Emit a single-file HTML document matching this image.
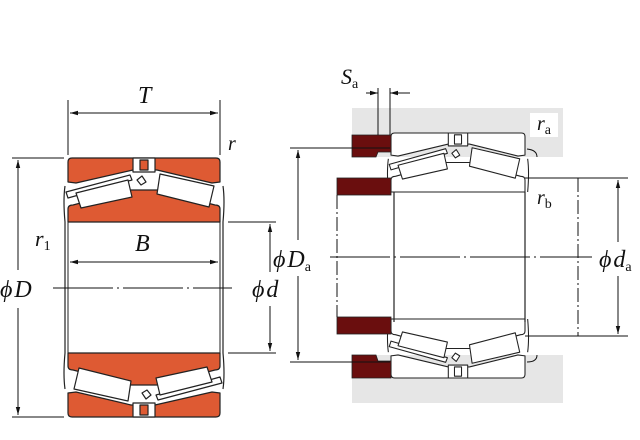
<!DOCTYPE html>
<html><head><meta charset="utf-8"><style>
html,body{margin:0;padding:0;background:#fff;}
svg{display:block;}
text{font-family:"Liberation Serif",serif;font-style:italic;fill:#111;}
tspan.s{font-style:normal;font-size:14px;}
</style></head><body>
<svg width="640" height="440" viewBox="0 0 640 440" xmlns="http://www.w3.org/2000/svg">
<defs>
<marker id="ar" markerWidth="8" markerHeight="6" refX="8" refY="3" orient="auto-start-reverse" markerUnits="userSpaceOnUse"><path d="M0,0.8 L8,3 L0,5.2 Z" fill="#111"/></marker>
<g id="half" stroke="#222" stroke-width="1.2" stroke-linejoin="round">
  <path d="M72,158 L216,158 Q220,158 220,162 L220,182 L212,183 L157,170 L133,170 L76,183 L68,182 L68,162 Q68,158 72,158 Z"/>
  <path d="M133,158 L155,158 L155,172 L133,172 Z" fill="#fff"/>
  <path d="M140,160 L148,160 L148,170 L140,170 Z"/>
  <path d="M68,222 L68,209 Q68,205 73,205 L130,190 L158,190 L215,205 Q220,205 220,209 L220,222 Z"/>
  <path d="M66,192 L130,175 L132,180 L68,198 Z" fill="#fff"/>
  <path d="M76,193 L128,180 L132,197 L81,208 Z" fill="#fff"/>
  <path d="M160,174 L214,186 L209,207 L157,194 Z" fill="#fff"/>
  <path d="M137,180 L142,176 L146,182 L141,185 Z" fill="#fff"/>
  <path d="M65,186 Q63,200 65,222 M223,186 Q225,200 223,222" fill="none"/>
</g>
</defs>

<g fill="#de5a33"><use href="#half"/></g>
<g fill="#de5a33" transform="rotate(180 144 287.5)"><use href="#half"/></g>
<line x1="65" y1="222" x2="65" y2="353" stroke="#222" stroke-width="1.2"/>
<line x1="223" y1="222" x2="223" y2="353" stroke="#222" stroke-width="1.2"/>
<line x1="68" y1="222" x2="68" y2="353" stroke="#222" stroke-width="1"/>
<line x1="220" y1="222" x2="220" y2="353" stroke="#222" stroke-width="1"/>

<g stroke="#111" stroke-width="1" fill="none">
  <line x1="53" y1="288" x2="232" y2="288" stroke-dasharray="60,4,2,4"/>
  <line x1="12" y1="158" x2="64" y2="158"/><line x1="12" y1="417" x2="64" y2="417"/>
  <line x1="18" y1="160" x2="18" y2="270" marker-start="url(#ar)"/>
  <line x1="18" y1="308" x2="18" y2="415" marker-end="url(#ar)"/>
  <line x1="228" y1="222" x2="276" y2="222"/><line x1="228" y1="353" x2="276" y2="353"/>
  <line x1="270" y1="224" x2="270" y2="272" marker-start="url(#ar)"/>
  <line x1="270" y1="306" x2="270" y2="351" marker-end="url(#ar)"/>
  <line x1="70" y1="262" x2="218" y2="262" marker-start="url(#ar)" marker-end="url(#ar)"/>
  <line x1="68" y1="100" x2="68" y2="155"/><line x1="220" y1="100" x2="220" y2="155"/>
  <line x1="70" y1="113" x2="218" y2="113" marker-start="url(#ar)" marker-end="url(#ar)"/>
</g>
<text x="138" y="103" font-size="24">T</text>
<text x="228" y="150" font-size="20">r</text>
<text x="35" y="246" font-size="22">r<tspan class="s" dy="4">1</tspan></text>
<text x="135" y="251" font-size="24">B</text>
<text x="0" y="297" font-size="24">ϕ<tspan dx="2">D</tspan></text>
<text x="252" y="297" font-size="24">ϕ<tspan dx="2">d</tspan></text>

<rect x="352" y="108" width="211" height="49" fill="#e6e6e6"/>
<rect x="352" y="355" width="211" height="48" fill="#e6e6e6"/>
<rect x="530" y="113" width="28" height="24" fill="#fff"/>
<g transform="translate(391,133) scale(0.8816,0.922) translate(-68,-158)" fill="#fff"><use href="#half"/></g>
<g transform="translate(391,378) scale(0.8816,-0.922) translate(-68,-158)" fill="#fff"><use href="#half"/></g>
<line x1="394" y1="192" x2="394" y2="322" stroke="#222" stroke-width="1.2"/>
<line x1="525" y1="192" x2="525" y2="322" stroke="#222" stroke-width="1.2"/>
<g fill="#6a0e0e" stroke="#222" stroke-width="0.8">
  <path d="M352,135 L391,135 L391,152 L378,152 L376,157 L352,157 Z"/>
  <path d="M352,378 L391,378 L391,361 L378,361 L376,355 L352,355 Z"/>
  <rect x="337" y="178" width="54" height="17"/>
  <rect x="337" y="317" width="54" height="17"/>
</g>
<g stroke="#111" stroke-width="1" fill="none">
  <line x1="330" y1="257" x2="592" y2="257" stroke-dasharray="60,4,2,4"/>
  <line x1="337" y1="195" x2="337" y2="317" stroke-dasharray="14,3,2,3"/>
  <line x1="578" y1="178" x2="578" y2="336" stroke-dasharray="14,3,2,3"/>
  <line x1="290" y1="148" x2="390" y2="148"/><line x1="290" y1="362" x2="390" y2="362"/>
  <line x1="298" y1="150" x2="298" y2="240" marker-start="url(#ar)"/>
  <line x1="298" y1="276" x2="298" y2="360" marker-end="url(#ar)"/>
  <line x1="525" y1="178" x2="628" y2="178"/><line x1="525" y1="336" x2="628" y2="336"/>
  <line x1="618" y1="180" x2="618" y2="242" marker-start="url(#ar)"/>
  <line x1="618" y1="276" x2="618" y2="334" marker-end="url(#ar)"/>
  <line x1="378" y1="88" x2="378" y2="135"/><line x1="390" y1="88" x2="390" y2="135"/>
  <line x1="366" y1="93" x2="378" y2="93" marker-end="url(#ar)"/>
  <line x1="410" y1="93" x2="390" y2="93" marker-end="url(#ar)"/>
  <path d="M527,149 Q537,150 537,157"/><path d="M527,362 Q537,362 537,355"/>
</g>
<text x="341" y="84" font-size="22">S<tspan class="s" dy="4">a</tspan></text>
<text x="537" y="130" font-size="20">r<tspan class="s" dy="4">a</tspan></text>
<text x="537" y="204" font-size="20">r<tspan class="s" dy="4">b</tspan></text>
<text x="273" y="267" font-size="24">ϕ<tspan dx="2">D</tspan><tspan class="s" dy="4">a</tspan></text>
<text x="599" y="267" font-size="24">ϕ<tspan dx="2">d</tspan><tspan class="s" dy="4">a</tspan></text>
</svg>
</body></html>
